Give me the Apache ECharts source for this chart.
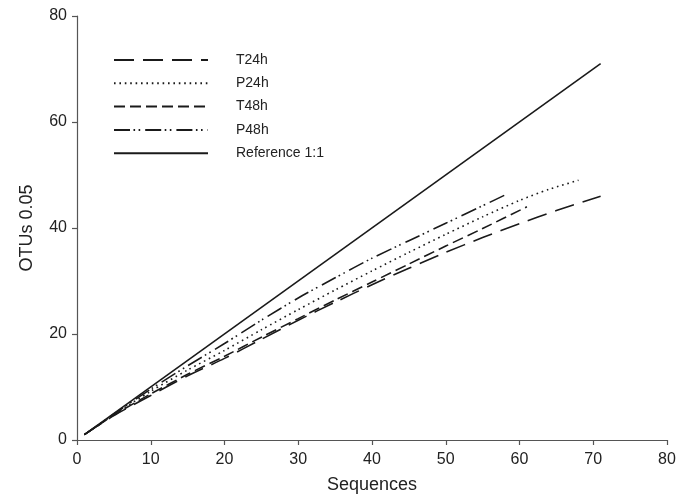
<!DOCTYPE html>
<html>
<head>
<meta charset="utf-8">
<script src="https://cdn.jsdelivr.net/npm/echarts@6/dist/echarts.min.js"></script>
<style>
  html, body { margin: 0; padding: 0; background: #fff; }
  #chart { width: 691px; height: 496px; }
</style>
</head>
<body>
<div id="chart"></div>
<script>
// Rarefaction curves: OTUs at 0.05 distance versus number of sequences
const t24hX = [1, 5, 10, 15, 20, 25, 30, 35, 40, 45, 50, 55, 60, 65, 71];
const t24hY = [1, 4.6, 8.4, 12.1, 15.4, 19.0, 22.6, 26.0, 29.3, 32.4, 35.4, 38.2, 40.8, 43.3, 46.0];

const p24hX = [1, 5, 10, 15, 20, 25, 30, 35, 40, 45, 50, 55, 60, 64, 68];
const p24hY = [1, 4.8, 9.2, 13.2, 16.9, 20.8, 24.6, 28.3, 31.9, 35.4, 38.8, 42.1, 45.2, 47.3, 49.0];

const t48hX = [1, 5, 10, 15, 20, 25, 30, 35, 40, 45, 50, 55, 61];
const t48hY = [1, 4.7, 8.7, 12.4, 15.8, 19.4, 22.9, 26.4, 29.8, 33.2, 36.6, 39.9, 44.0];

const p48hX = [1, 5, 10, 15, 20, 25, 30, 35, 40, 45, 50, 55, 58];
const p48hY = [1, 4.9, 9.6, 14.0, 18.2, 22.6, 26.8, 30.6, 34.3, 37.6, 40.9, 44.2, 46.2];

const refX = [1, 71];
const refY = [1, 71];

const axisTicks = [0, 10, 20, 30, 40, 50, 60, 70, 80];
const legendNames = ['T24h', 'P24h', 'T48h', 'P48h', 'Reference 1:1'];

function pairs(xs, ys) {
  return xs.map((x, i) => [x, ys[i]]);
}

const ink = '#1a1a1a';
const font = '"Liberation Sans", Arial, sans-serif';

function lineSeries(name, xs, ys, dash) {
  return {
    name: name,
    type: 'line',
    data: pairs(xs, ys),
    smooth: 0.25,
    showSymbol: false,
    symbol: 'none',
    lineStyle: { color: ink, width: 1.6, type: dash },
    itemStyle: { color: ink },
    emphasis: { disabled: true },
    z: 3
  };
}

const chart = echarts.init(document.getElementById('chart'), null, { renderer: 'canvas' });

chart.setOption({
  animation: false,
  backgroundColor: '#ffffff',
  grid: { left: 77, right: 24, top: 16, bottom: 56, containLabel: false, outerBoundsMode: 'none' },
  legend: {
    orient: 'vertical',
    left: 108,
    top: 48,
    itemWidth: 94,
    itemHeight: 14,
    itemGap: 9.3,
    itemStyle: { opacity: 0 },
    data: legendNames.map(n => ({ name: n })),
    textStyle: {
      color: '#222',
      fontFamily: font,
      fontSize: 14,
      padding: [0, 0, 0, 23]
    },
    selectedMode: false
  },
  xAxis: {
    type: 'value',
    min: axisTicks[0],
    max: axisTicks[axisTicks.length - 1],
    interval: 10,
    name: 'Sequences',
    nameLocation: 'middle',
    nameGap: 36,
    nameMoveOverlap: false,
    nameTextStyle: { color: '#222', fontFamily: font, fontSize: 18 },
    axisLine: { show: true, onZero: false, lineStyle: { color: '#555', width: 1.2 } },
    axisTick: { show: true, length: 5, lineStyle: { color: '#555', width: 1.2 } },
    axisLabel: { color: '#222', fontFamily: font, fontSize: 16, margin: 12 },
    splitLine: { show: false }
  },
  yAxis: {
    type: 'value',
    min: axisTicks[0],
    max: axisTicks[axisTicks.length - 1],
    interval: 20,
    name: 'OTUs 0.05',
    nameLocation: 'middle',
    nameRotate: 90,
    nameGap: 41,
    nameMoveOverlap: false,
    nameTextStyle: { color: '#222', fontFamily: font, fontSize: 18 },
    axisLine: { show: true, onZero: false, lineStyle: { color: '#555', width: 1.2 } },
    axisTick: { show: true, length: 5, lineStyle: { color: '#555', width: 1.2 } },
    axisLabel: { color: '#222', fontFamily: font, fontSize: 16, margin: 10 },
    splitLine: { show: false }
  },
  series: [
    lineSeries('T24h', t24hX, t24hY, [20, 9]),
    lineSeries('P24h', p24hX, p24hY, [1.6, 3.8]),
    lineSeries('T48h', t48hX, t48hY, [11, 5]),
    lineSeries('P48h', p48hX, p48hY, [16, 3.5, 1.6, 3.5, 1.6, 5]),
    lineSeries('Reference 1:1', refX, refY, 'solid')
  ]
});
</script>
</body>
</html>
